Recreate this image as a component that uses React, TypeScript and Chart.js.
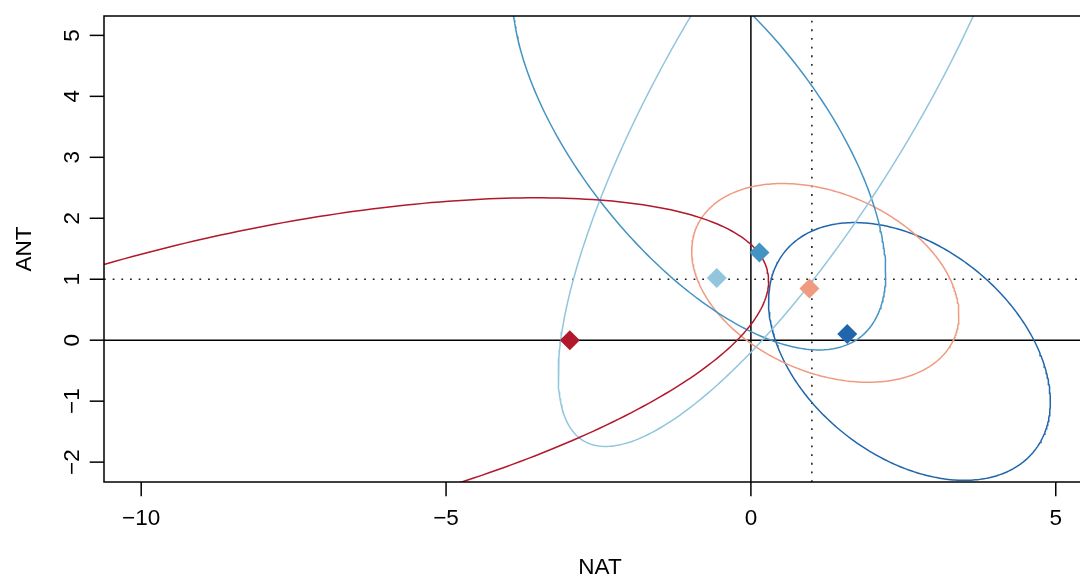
import { useEffect, useRef } from "react";
import { Chart, registerables } from "chart.js";

Chart.register(...registerables);

// Axis ranges and tick positions
const natRange = [-10.61, 5.66];
const antRange = [-2.326, 5.318];
const natTicks = [-10, -5, 0, 5];
const antTicks = [-2, -1, 0, 1, 2, 3, 4, 5];

// Reference lines
const solidNat = [0];
const solidAnt = [0];
const dottedNat = [1];
const dottedAnt = [1];

// Best-estimate scaling factors (diamonds)
const pointNat = [-2.97, -0.56, 0.14, 0.96, 1.58];
const pointAnt = [0.0, 1.02, 1.44, 0.85, 0.1];
const colors = ["#B2182B", "#92C5DE", "#4393C3", "#EF9B80", "#2166AC"];

// Confidence ellipses: centre and covariance (var NAT, cov, var ANT)
const ellCenterNat = [-8.11, 0.79, -0.85, 1.22, 2.6];
const ellCenterAnt = [-0.676, 4.29, 3.38, 0.94, -0.185];
const ellVarNat = [70.56, 15.6, 9.37, 4.8, 5.34];
const ellCov = [13.83, 19.15, -6.95, -1.14, -1.9];
const ellVarAnt = [9.07, 36.4, 12.53, 2.657, 4.47];

const FONT = '22.5px "Liberation Sans", Arial, Helvetica, sans-serif';

function fmt(v: number): string {
  return v < 0 ? "\u2212" + Math.abs(v) : String(v);
}

// Outline of an ellipse from its centre and covariance, via Cholesky factor
function ellipseOutline(i: number) {
  const l11 = Math.sqrt(ellVarNat[i]);
  const l21 = ellCov[i] / l11;
  const l22 = Math.sqrt(ellVarAnt[i] - l21 * l21);
  const pts: { x: number; y: number }[] = [];
  const n = 360;
  for (let k = 0; k <= n; k++) {
    const t = (2 * Math.PI * k) / n;
    const c = Math.cos(t);
    const s = Math.sin(t);
    pts.push({
      x: ellCenterNat[i] + l11 * c,
      y: ellCenterAnt[i] + l21 * c + l22 * s,
    });
  }
  return pts;
}

const framePlugin = {
  id: "rframe",
  beforeDatasetsDraw(chart: any) {
    const { ctx, chartArea: a, scales } = chart;
    const xs = scales.x;
    const ys = scales.y;
    ctx.save();
    ctx.beginPath();
    ctx.rect(a.left, a.top, a.right - a.left, a.bottom - a.top);
    ctx.clip();
    ctx.strokeStyle = "#000";
    ctx.lineWidth = 1.5;
    for (const v of solidNat) {
      const px = xs.getPixelForValue(v);
      ctx.beginPath();
      ctx.moveTo(px, a.top);
      ctx.lineTo(px, a.bottom);
      ctx.stroke();
    }
    for (const v of solidAnt) {
      const py = ys.getPixelForValue(v);
      ctx.beginPath();
      ctx.moveTo(a.left, py);
      ctx.lineTo(a.right, py);
      ctx.stroke();
    }
    ctx.strokeStyle = "#222";
    ctx.lineWidth = 1.6;
    ctx.setLineDash([1.8, 6.87]);
    for (const v of dottedNat) {
      const px = xs.getPixelForValue(v);
      ctx.beginPath();
      ctx.moveTo(px, a.bottom);
      ctx.lineTo(px, a.top);
      ctx.stroke();
    }
    for (const v of dottedAnt) {
      const py = ys.getPixelForValue(v);
      ctx.beginPath();
      ctx.moveTo(a.left, py);
      ctx.lineTo(a.right, py);
      ctx.stroke();
    }
    ctx.restore();
  },
  afterDraw(chart: any) {
    const { ctx, chartArea: a, scales } = chart;
    const xs = scales.x;
    const ys = scales.y;
    const tick = 14.3;
    ctx.save();
    ctx.strokeStyle = "#000";
    ctx.lineWidth = 1.5;
    ctx.strokeRect(a.left, a.top, a.right - a.left, a.bottom - a.top);

    ctx.fillStyle = "#000";
    ctx.font = FONT;
    ctx.textBaseline = "alphabetic";
    ctx.textAlign = "center";
    for (const v of natTicks) {
      const px = xs.getPixelForValue(v);
      ctx.beginPath();
      ctx.moveTo(px, a.bottom);
      ctx.lineTo(px, a.bottom + tick);
      ctx.stroke();
      ctx.fillText(fmt(v), px, a.bottom + 43.2);
    }
    for (const v of antTicks) {
      const py = ys.getPixelForValue(v);
      ctx.beginPath();
      ctx.moveTo(a.left, py);
      ctx.lineTo(a.left - tick, py);
      ctx.stroke();
      ctx.save();
      ctx.translate(a.left - 24.8, py);
      ctx.rotate(-Math.PI / 2);
      ctx.fillText(fmt(v), 0, 0);
      ctx.restore();
    }
    ctx.fillText("NAT", (a.left + a.right) / 2, a.bottom + 92);
    ctx.save();
    ctx.translate(a.left - 73.5, (a.top + a.bottom) / 2);
    ctx.rotate(-Math.PI / 2);
    ctx.fillText("ANT", 0, 0);
    ctx.restore();
    ctx.restore();
  },
};

export default function App() {
  const ref = useRef<HTMLCanvasElement | null>(null);

  useEffect(() => {
    const canvas = ref.current;
    if (!canvas) return;

    const datasets: any[] = [
      {
        label: "best",
        data: pointNat.map((x, i) => ({ x, y: pointAnt[i] })),
        pointStyle: "rectRot",
        pointRadius: 10,
        pointBorderWidth: 0,
        pointBackgroundColor: colors,
        pointBorderColor: colors,
        showLine: false,
        order: 0,
      },
    ];
    ellCenterNat.forEach((_, i) => {
      datasets.push({
        label: "ellipse" + i,
        data: ellipseOutline(i),
        showLine: true,
        borderColor: colors[i],
        borderWidth: 1.5,
        pointRadius: 0,
        fill: false,
        tension: 0,
        clip: 0,
        order: 1,
      });
    });

    const chart = new Chart(canvas, {
      type: "scatter",
      data: { datasets },
      options: {
        animation: false,
        responsive: false,
        maintainAspectRatio: false,
        events: [],
        layout: { padding: { left: 104, top: 16, right: 16, bottom: 94 } },
        plugins: { legend: { display: false }, tooltip: { enabled: false } },
        scales: {
          x: { type: "linear", min: natRange[0], max: natRange[1], display: false },
          y: { type: "linear", min: antRange[0], max: antRange[1], display: false },
        },
      },
      plugins: [framePlugin],
    });
    return () => chart.destroy();
  }, []);

  return (
    <div
      style={{
        position: "absolute",
        left: 0,
        top: 0,
        width: 1080,
        height: 576,
        overflow: "hidden",
        background: "#fff",
      }}
    >
      <canvas ref={ref} width={1112} height={576} style={{ display: "block" }} />
    </div>
  );
}
